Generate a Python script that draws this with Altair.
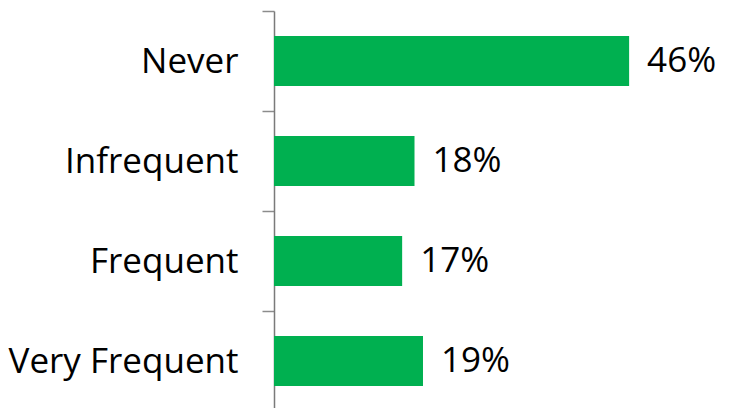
import altair as alt
import pandas as pd

categories = ["Never", "Infrequent", "Frequent", "Very Frequent"]
values = [46.0, 18.2, 16.6, 19.3]
labels = ["46%", "18%", "17%", "19%"]

df = pd.DataFrame({"cat": categories, "val": values, "lab": labels})

y = alt.Y("cat:N", sort=categories, title=None,
          scale=alt.Scale(paddingInner=0, paddingOuter=0),
          axis=alt.Axis(labelFont="Open Sans", labelFontSize=35, labelColor="#000000",
                        labelPadding=24, tickSize=12, tickColor="#8c8c8c",
                        domainColor="#7a7a7a", domainWidth=1.5, tickWidth=1.5,
                        tickBand="extent", labelLimit=400))
x = alt.X("val:Q", scale=alt.Scale(domain=[0, 50]), axis=None)

bars = alt.Chart(df).mark_bar(height=50, color="#00B050").encode(x=x, y=y)
text = alt.Chart(df).mark_text(align="left", baseline="middle", dx=18,
                               font="Open Sans", fontSize=35, color="#000000").encode(
    x=x, y=alt.Y("cat:N", sort=categories), text="lab:N")

chart = (bars + text).properties(
    width=386, height=400,
    autosize=alt.AutoSizeParams(type="none"),
    padding={"left": 274, "top": 11, "right": 70, "bottom": 0},
    background="white",
).configure_view(stroke=None)

chart.save("out.html", embed_options={"renderer": "svg", "actions": False})
